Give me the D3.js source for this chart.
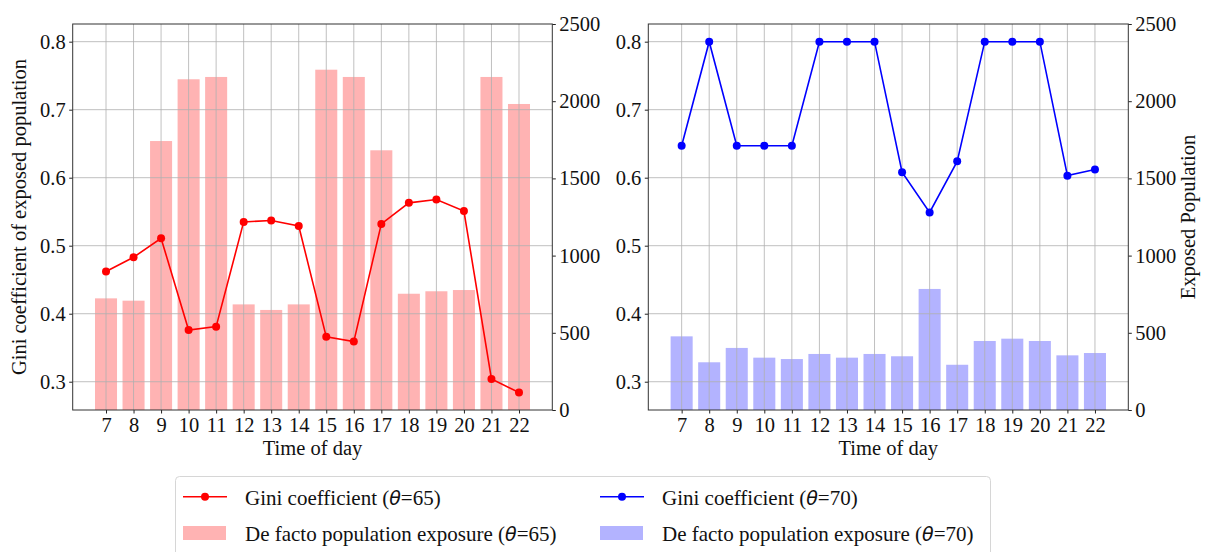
<!DOCTYPE html>
<html>
<head>
<meta charset="utf-8">
<script src="https://cdn.jsdelivr.net/npm/d3@7.9.0/dist/d3.min.js"></script>
<style>
  body { margin: 0; background: #fff; }
  svg  { display: block; font-family: "Liberation Serif", "Times New Roman", serif; }
</style>
</head>
<body>
<svg id="chart" width="1207" height="552"></svg>
<script>
/* ──── data ──── */
const hours   = [7, 8, 9, 10, 11, 12, 13, 14, 15, 16, 17, 18, 19, 20, 21, 22];

const gini65  = [0.462, 0.483, 0.511, 0.376, 0.381, 0.535, 0.537, 0.529,
                 0.366, 0.359, 0.532, 0.563, 0.568, 0.551, 0.304, 0.284];
const expo65  = [723, 708, 1742, 2142, 2157, 684, 648, 684,
                 2204, 2157, 1682, 753, 769, 777, 2157, 1982];

const gini70  = [0.647, 0.800, 0.647, 0.647, 0.647, 0.800, 0.800, 0.800,
                 0.608, 0.549, 0.624, 0.800, 0.800, 0.800, 0.603, 0.612];
const expo70  = [477, 309, 402, 339, 330, 363, 339, 363,
                 348, 784, 293, 447, 462, 447, 354, 369];

const giniTicks = [0.3, 0.4, 0.5, 0.6, 0.7, 0.8];
const expoTicks = [0, 500, 1000, 1500, 2000, 2500];

const giniDomain = [0.2584, 0.826];
const expoDomain = [0, 2500];
const hourDomain = [5.79, 23.21];

/* ──── layout ──── */
const plotTop    = 24;
const plotBottom = 410;
const fontPx     = 20.5;
const serif      = '"Liberation Serif", "Times New Roman", serif';

const svg = d3.select('#chart');

/* ──── one panel = bars (right axis) + gini line (left axis) ──── */
function drawPanel ({ left, right, gini, expo, color, barFill, leftLabel, rightLabel }) {
  const x  = d3.scaleLinear().domain(hourDomain).range([left, right]);
  const y  = d3.scaleLinear().domain(giniDomain).range([plotBottom, plotTop]);
  const yR = d3.scaleLinear().domain(expoDomain).range([plotBottom, plotTop]);
  const bw = x(0.8) - x(0);

  const g = svg.append('g');

  /* bars */
  g.append('g')
    .selectAll('rect')
    .data(hours)
    .join('rect')
    .attr('x', (h) => x(h) - bw / 2)
    .attr('width', bw)
    .attr('y', (h, i) => yR(expo[i]))
    .attr('height', (h, i) => yR(0) - yR(expo[i]))
    .attr('fill', barFill);

  /* grid */
  const grid = g.append('g')
    .attr('stroke', '#b0b0b0')
    .attr('stroke-width', 0.8);

  grid.selectAll('.vx')
    .data(hours)
    .join('line')
    .attr('x1', (h) => x(h)).attr('x2', (h) => x(h))
    .attr('y1', plotTop).attr('y2', plotBottom);

  grid.selectAll('.hy')
    .data(giniTicks)
    .join('line')
    .attr('x1', left).attr('x2', right)
    .attr('y1', (v) => y(v)).attr('y2', (v) => y(v));

  /* gini line + markers */
  const line = d3.line()
    .x((d) => x(d[0]))
    .y((d) => y(d[1]));

  const pts = hours.map((h, i) => [h, gini[i]]);

  g.append('path')
    .datum(pts)
    .attr('d', line)
    .attr('fill', 'none')
    .attr('stroke', color)
    .attr('stroke-width', 1.6);

  g.append('g')
    .selectAll('circle')
    .data(pts)
    .join('circle')
    .attr('cx', (d) => x(d[0]))
    .attr('cy', (d) => y(d[1]))
    .attr('r', 4)
    .attr('fill', color);

  /* axes */
  const styleAxis = (sel) => {
    sel.attr('font-family', serif).attr('font-size', fontPx);
    sel.select('.domain').remove();
    sel.selectAll('.tick line').attr('stroke', '#222');
    sel.selectAll('.tick text').attr('fill', '#111');
  };

  g.append('g')
    .attr('transform', `translate(0,${plotBottom})`)
    .call(d3.axisBottom(x).tickValues(hours).tickFormat(d3.format('d'))
      .tickSize(3.5).tickPadding(3.5))
    .call(styleAxis);

  g.append('g')
    .attr('transform', `translate(${left},0)`)
    .call(d3.axisLeft(y).tickValues(giniTicks).tickFormat(d3.format('.1f'))
      .tickSize(3.5).tickPadding(3.5))
    .call(styleAxis);

  g.append('g')
    .attr('transform', `translate(${right},0)`)
    .call(d3.axisRight(yR).tickValues(expoTicks).tickFormat(d3.format('d'))
      .tickSize(3.5).tickPadding(3.5))
    .call(styleAxis);

  /* frame */
  g.append('rect')
    .attr('x', left).attr('y', plotTop)
    .attr('width', right - left).attr('height', plotBottom - plotTop)
    .attr('fill', 'none')
    .attr('stroke', '#333')
    .attr('stroke-width', 1);

  /* axis titles */
  g.append('text')
    .attr('x', (left + right) / 2)
    .attr('y', 455)
    .attr('text-anchor', 'middle')
    .attr('font-size', fontPx)
    .attr('fill', '#111')
    .text('Time of day');

  if (leftLabel) {
    g.append('text')
      .attr('transform', `translate(26,${(plotTop + plotBottom) / 2}) rotate(-90)`)
      .attr('text-anchor', 'middle')
      .attr('font-size', fontPx)
      .attr('fill', '#111')
      .text(leftLabel);
  }
  if (rightLabel) {
    g.append('text')
      .attr('transform', `translate(1195,${(plotTop + plotBottom) / 2}) rotate(-90)`)
      .attr('text-anchor', 'middle')
      .attr('font-size', fontPx)
      .attr('fill', '#111')
      .text(rightLabel);
  }
}

drawPanel({
  left: 72.7, right: 552.3,
  gini: gini65, expo: expo65,
  color: '#ff0000', barFill: '#ffb3b3',
  leftLabel: 'Gini coefficient of exposed population'
});

drawPanel({
  left: 648.3, right: 1128.3,
  gini: gini70, expo: expo70,
  color: '#0000ff', barFill: '#b3b3ff',
  rightLabel: 'Exposed Population'
});

/* ──── legend ──── */
const legendItems = [
  { kind: 'line',  color: '#ff0000', text: 'Gini coefficient (',             theta: '65', col: 0, row: 0 },
  { kind: 'patch', color: '#ffb3b3', text: 'De facto population exposure (', theta: '65', col: 0, row: 1 },
  { kind: 'line',  color: '#0000ff', text: 'Gini coefficient (',             theta: '70', col: 1, row: 0 },
  { kind: 'patch', color: '#b3b3ff', text: 'De facto population exposure (', theta: '70', col: 1, row: 1 }
];

const legend = svg.append('g');

legend.append('rect')
  .attr('x', 175.5).attr('y', 476.5)
  .attr('width', 815).attr('height', 90)
  .attr('rx', 4)
  .attr('fill', '#fff')
  .attr('stroke', '#d6d6d6');

const colX = [183, 600];
const rowY = [496.7, 533];

legendItems.forEach((d) => {
  const gx = colX[d.col];
  const gy = rowY[d.row];
  const item = legend.append('g');

  if (d.kind === 'line') {
    item.append('line')
      .attr('x1', gx).attr('x2', gx + 44)
      .attr('y1', gy).attr('y2', gy)
      .attr('stroke', d.color).attr('stroke-width', 1.6);
    item.append('circle')
      .attr('cx', gx + 22).attr('cy', gy).attr('r', 4)
      .attr('fill', d.color);
  } else {
    item.append('rect')
      .attr('x', gx).attr('y', gy - 7)
      .attr('width', 43).attr('height', 14)
      .attr('fill', d.color);
  }

  const t = item.append('text')
    .attr('x', gx + 62)
    .attr('y', gy + 7.8)
    .attr('font-size', 21)
    .attr('fill', '#111');
  t.append('tspan').text(d.text);
  t.append('tspan')
    .attr('font-family', '"DejaVu Sans", sans-serif')
    .attr('font-style', 'italic')
    .attr('font-size', 19)
    .text('θ');
  t.append('tspan').text(`=${d.theta})`);
});
</script>
</body>
</html>
